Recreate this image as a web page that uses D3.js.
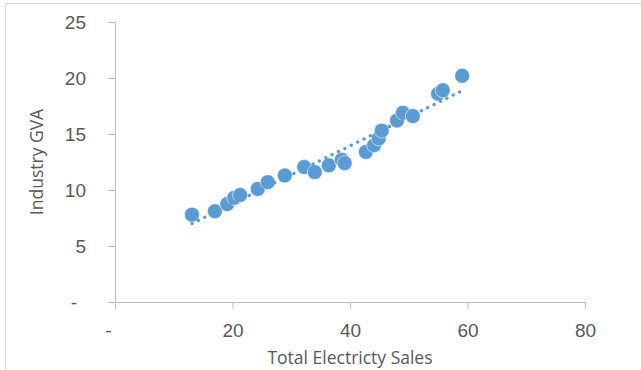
<!DOCTYPE html>
<html>
<head>
<meta charset="utf-8">
<script src="https://cdn.jsdelivr.net/npm/d3@7"></script>
<style>
  body { margin: 0; background: #fff; }
  svg { display: block; font-family: "Open Sans", "Liberation Sans", sans-serif; }
  .axis path, .axis line { stroke: #bfbfbf; }
  .axis text { fill: #595959; font-size: 19px; }
</style>
</head>
<body>
<script>
'use strict';
// 읽어낸 값 (Total Electricty Sales, Industry GVA)
const salesValues = [13.1, 17.0, 19.1, 20.3, 21.3, 24.3, 26.0, 28.9, 32.2, 34.0, 36.4, 38.6,
  39.1, 42.7, 44.1, 44.9, 45.4, 48.0, 49.0, 50.7, 55.0, 55.8, 59.1];
const gvaValues = [7.8, 8.1, 8.75, 9.3, 9.55, 10.1, 10.7, 11.3, 12.05, 11.6, 12.2, 12.7,
  12.4, 13.4, 14.0, 14.6, 15.3, 16.2, 16.9, 16.6, 18.6, 18.9, 20.2];
const xTicks = [0, 20, 40, 60, 80];
const yTicks = [0, 5, 10, 15, 20, 25];

const W = 641, H = 370;
const svg = d3.select(document.body).append('svg')
  .attr('width', W).attr('height', H);

// 차트 테두리
svg.append('rect')
  .attr('x', 5.5).attr('y', 3.5)
  .attr('width', W + 10).attr('height', H + 10)
  .attr('fill', '#fff').attr('stroke', '#d9d9d9');

const x = d3.scaleLinear().domain([0, 80]).range([115, 585]);
const y = d3.scaleLinear().domain([0, 25]).range([302, 22]);

const fmt = d => d === 0 ? '-' : d;

// y축
const gy = svg.append('g')
  .attr('class', 'axis')
  .attr('transform', 'translate(115,0)')
  .call(d3.axisLeft(y).tickValues(yTicks).tickFormat(fmt).tickSize(7).tickSizeOuter(0).tickPadding(22));
gy.selectAll('text').filter(d => d === 0).attr('dx', -9);

// x축
const gx = svg.append('g')
  .attr('class', 'axis')
  .attr('transform', 'translate(0,302)')
  .call(d3.axisBottom(x).tickValues(xTicks).tickFormat(fmt).tickSize(7).tickSizeOuter(0).tickPadding(15));
gx.selectAll('text').filter(d => d === 0).attr('dx', -7);
gx.select('.domain').attr('d', 'M108,0.5H585');

// 축 제목
svg.append('text')
  .attr('x', 350).attr('y', 364)
  .attr('text-anchor', 'middle')
  .attr('fill', '#595959').style('font-size', '17.5px')
  .text('Total Electricty Sales');
svg.append('text')
  .attr('transform', 'translate(43,162) rotate(-90)')
  .attr('text-anchor', 'middle')
  .attr('fill', '#595959').style('font-size', '17.5px')
  .text('Industry GVA');

// 점
const pts = salesValues.map((v, i) => ({x: v, y: gvaValues[i]}));
svg.append('g').selectAll('circle')
  .data(pts).enter()
  .append('circle')
  .attr('cx', d => x(d.x))
  .attr('cy', d => y(d.y))
  .attr('r', 7.5)
  .attr('fill', '#5b9bd5')
  .attr('stroke', '#fff')
  .attr('stroke-width', 0.6);

// 선형 추세선 (최소제곱)
const mx = d3.mean(salesValues), my = d3.mean(gvaValues);
const slope = d3.sum(pts, d => (d.x - mx) * (d.y - my)) / d3.sum(pts, d => (d.x - mx) ** 2);
const b = my - slope * mx;
const ends = d3.extent(salesValues).map(v => ({x: v, y: b + slope * v}));
svg.append('path')
  .attr('d', d3.line().x(d => x(d.x)).y(d => y(d.y))(ends))
  .attr('fill', 'none')
  .attr('stroke', '#5b9bd5')
  .attr('stroke-width', 3.3)
  .attr('stroke-linecap', 'round')
  .attr('stroke-dasharray', '0.1 7');
</script>
</body>
</html>
